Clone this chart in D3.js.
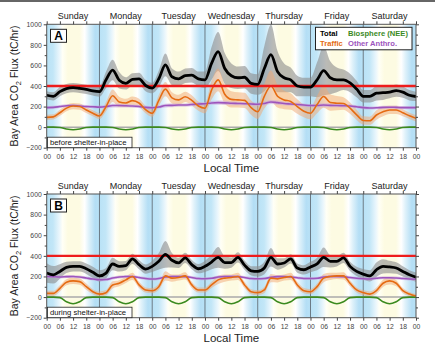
<!DOCTYPE html>
<html lang="en">
<head>
<meta charset="utf-8">
<title>Bay Area CO2 flux</title>
<style>
  body { margin: 0; background: #fff; }
  svg text { font-family: "Liberation Sans", Arial, sans-serif; }
</style>
</head>
<body>
<div id="chart"></div>
<script src="https://d3js.org/d3.v7.min.js"></script>
<script>
// ---- data (3-hourly, Sunday 00 -> Saturday 24) ----
var days = ["Sunday", "Monday", "Tuesday", "Wednesday", "Thursday", "Friday", "Saturday"];
var hourLabels = ["00", "06", "12", "18"];
var yTicks = [-200, 0, 200, 400, 600, 800, 1000];
var refLevel = 400;

var totalA = [310, 300, 345, 375, 385, 378, 368, 352,
  345, 460, 555, 455, 425, 465, 470, 405,
  380, 470, 605, 490, 470, 500, 505, 470,
  460, 620, 735, 570, 500, 480, 485, 425,
  415, 570, 705, 540, 480, 460, 400, 390,
  390, 460, 550, 480, 460, 460, 430, 370,
  300, 300, 330, 335, 340, 355, 340, 310, 298];
var totalBandA = [40, 40, 45, 45, 45, 45, 45, 45,
  50, 80, 100, 80, 60, 60, 60, 55,
  50, 80, 110, 80, 70, 70, 70, 70,
  80, 160, 190, 150, 120, 110, 110, 100,
  100, 220, 290, 200, 140, 120, 100, 90,
  90, 170, 240, 160, 120, 100, 90, 80,
  60, 60, 70, 70, 60, 60, 55, 50, 45];
var trafficA = [95, 100, 140, 185, 205, 200, 167, 135,
  108, 200, 305, 245, 235, 258, 235, 170,
  135, 260, 370, 285, 265, 295, 260, 205,
  184, 360, 460, 320, 270, 265, 260, 190,
  150, 300, 400, 300, 265, 250, 200, 155,
  135, 220, 298, 240, 233, 230, 184, 120,
  65, 62, 118, 150, 167, 167, 140, 110, 86];
var trafficBandA = [25, 25, 30, 30, 30, 30, 30, 30,
  30, 45, 60, 50, 40, 40, 40, 35,
  35, 55, 70, 55, 50, 50, 50, 45,
  50, 90, 110, 90, 80, 75, 75, 70,
  70, 120, 150, 110, 90, 80, 70, 60,
  60, 85, 110, 80, 70, 60, 55, 50,
  40, 40, 45, 45, 40, 40, 35, 30, 30];
var otherA = [190, 192, 200, 208, 210, 205, 200, 198,
  195, 200, 210, 210, 208, 205, 200, 192,
  188, 195, 210, 212, 215, 215, 220, 225,
  228, 235, 238, 236, 232, 230, 228, 225,
  222, 230, 245, 238, 230, 225, 220, 215,
  210, 210, 215, 212, 210, 208, 205, 198,
  190, 186, 188, 192, 194, 192, 190, 190, 190];
var otherBandA = [15, 15, 15, 15, 15, 15, 15, 15,
  15, 15, 18, 18, 16, 16, 15, 15,
  15, 15, 18, 18, 16, 16, 16, 16,
  16, 18, 20, 20, 18, 18, 16, 16,
  16, 18, 20, 20, 18, 18, 16, 16,
  15, 16, 18, 18, 16, 16, 15, 15,
  15, 15, 15, 15, 15, 15, 15, 15, 15];
var bioA = [0, 0, -3, -18, -25, -18, -3, 0,
  0, 0, -3, -18, -25, -18, -3, 0,
  0, 0, -3, -18, -25, -18, -3, 0,
  0, 0, -3, -18, -25, -18, -3, 0,
  0, 0, -3, -18, -25, -18, -3, 0,
  0, 0, -3, -18, -25, -18, -3, 0,
  0, 0, -3, -18, -25, -18, -3, 0, 0];

var totalB = [233, 216, 249, 288, 298, 298, 275, 240,
  206, 233, 321, 298, 305, 370, 315, 272,
  298, 347, 415, 357, 331, 380, 315, 275,
  298, 340, 385, 335, 335, 385, 310, 255,
  249, 282, 386, 321, 331, 370, 282, 265,
  292, 321, 386, 347, 347, 380, 298, 249,
  223, 206, 265, 298, 292, 282, 249, 216, 193];
var totalBandB = [95, 85, 70, 55, 50, 50, 50, 55,
  55, 50, 60, 50, 45, 50, 45, 45,
  55, 80, 130, 70, 50, 50, 45, 45,
  55, 70, 100, 60, 50, 50, 45, 45,
  50, 60, 90, 55, 45, 45, 45, 45,
  50, 60, 95, 60, 50, 50, 45, 45,
  50, 55, 70, 70, 60, 55, 50, 45, 45];
var trafficB = [36, 36, 85, 144, 157, 150, 101, 52,
  29, 43, 118, 134, 167, 200, 118, 69,
  62, 101, 206, 184, 190, 206, 118, 69,
  69, 118, 167, 184, 190, 200, 118, 52,
  43, 69, 184, 177, 190, 200, 118, 62,
  52, 101, 184, 200, 206, 206, 134, 69,
  43, 29, 62, 134, 157, 134, 62, 29, 10];
var trafficBandB = [25, 25, 30, 30, 30, 30, 30, 25,
  25, 25, 35, 30, 30, 35, 30, 25,
  25, 30, 45, 35, 30, 35, 30, 25,
  25, 30, 40, 35, 30, 35, 30, 25,
  25, 30, 40, 35, 30, 35, 30, 25,
  25, 30, 40, 35, 30, 35, 30, 25,
  25, 25, 30, 35, 35, 30, 25, 20, 20];
var otherB = [200, 198, 195, 198, 200, 195, 185, 175,
  168, 170, 185, 195, 200, 198, 190, 180,
  175, 180, 195, 200, 200, 198, 190, 180,
  178, 182, 195, 200, 200, 198, 190, 180,
  178, 180, 192, 198, 198, 195, 188, 180,
  180, 182, 195, 200, 200, 198, 190, 182,
  178, 176, 182, 188, 188, 185, 180, 176, 173];
var otherBandB = [14, 14, 14, 14, 14, 14, 14, 14,
  14, 14, 14, 14, 14, 14, 14, 14,
  14, 14, 14, 14, 14, 14, 14, 14,
  14, 14, 14, 14, 14, 14, 14, 14,
  14, 14, 14, 14, 14, 14, 14, 14,
  14, 14, 14, 14, 14, 14, 14, 14,
  14, 14, 14, 14, 14, 14, 14, 14, 14];
var bioB = [0, 0, -5, -45, -65, -45, -5, 0,
  0, 0, -5, -45, -65, -45, -5, 0,
  0, 0, -5, -45, -65, -45, -5, 0,
  0, 0, -5, -45, -65, -45, -5, 0,
  0, 0, -5, -45, -65, -45, -5, 0,
  0, 0, -5, -45, -65, -45, -5, 0,
  0, 0, -5, -45, -65, -45, -5, 0, 0];

var hours = totalA.map(function (d, i) { return i * 3; });

// ---- layout ----
var W = 435, H = 345;
var left = 46.7, right = 416;

var svg = d3.select("#chart").append("svg")
  .attr("width", W).attr("height", H);

svg.append("line").attr("x1", 0).attr("x2", W).attr("y1", 1).attr("y2", 1)
  .attr("stroke", "#666").attr("stroke-width", 2);

var x = d3.scaleLinear().domain([0, 168]).range([left, right]);

// background day gradient
var defs = svg.append("defs");
var grad = defs.append("linearGradient").attr("id", "daygrad")
  .attr("x1", "0%").attr("x2", "100%").attr("y1", "0%").attr("y2", "0%");
[[0, "#b9e2f6"], [0.12, "#c2e6f7"], [0.24, "#eaf6fc"], [0.3, "#fffff6"],
 [0.4, "#fdfbe2"], [0.62, "#fdfbe2"], [0.72, "#ffffff"], [0.8, "#def1fa"],
 [0.92, "#b4def5"], [1, "#b9e2f6"]].forEach(function (s) {
  grad.append("stop").attr("offset", s[0]).attr("stop-color", s[1]);
});

function drawPanel(top, bottom, id, label, note, d, legend) {
  var y = d3.scaleLinear().domain([-200, 1000]).range([bottom, top]);
  var g = svg.append("g");

  defs.append("clipPath").attr("id", "clip" + id).append("rect")
    .attr("x", left).attr("y", top).attr("width", right - left).attr("height", bottom - top);
  var plot = g.append("g").attr("clip-path", "url(#clip" + id + ")");

  plot.selectAll("rect.day").data(days).enter().append("rect")
    .attr("class", "day")
    .attr("x", function (dd, i) { return x(i * 24); })
    .attr("width", x(24) - x(0))
    .attr("y", top).attr("height", bottom - top)
    .attr("fill", "url(#daygrad)");

  plot.selectAll("line.dsep").data(d3.range(1, 7)).enter().append("line")
    .attr("x1", function (i) { return x(i * 24); })
    .attr("x2", function (i) { return x(i * 24); })
    .attr("y1", top).attr("y2", bottom)
    .attr("stroke", "#6a7a85").attr("stroke-width", 1);

  plot.append("line").attr("x1", left).attr("x2", right)
    .attr("y1", y(0)).attr("y2", y(0))
    .attr("stroke", "#aaa").attr("stroke-width", 1.5);

  function band(vals, spread) {
    return d3.area().curve(d3.curveMonotoneX)
      .x(function (v, i) { return x(hours[i]); })
      .y0(function (v, i) { return y(vals[i] - spread[i]); })
      .y1(function (v, i) { return y(vals[i] + spread[i]); })(vals);
  }
  var line = d3.line().curve(d3.curveMonotoneX)
    .x(function (v, i) { return x(hours[i]); })
    .y(function (v) { return y(v); });

  plot.append("path").attr("d", band(d.total, d.totalBand))
    .attr("fill", "#8c8c8c").attr("opacity", 0.6);
  plot.append("path").attr("d", band(d.traffic, d.trafficBand))
    .attr("fill", "#f2a772").attr("opacity", 0.5);
  plot.append("path").attr("d", band(d.other, d.otherBand))
    .attr("fill", "#c9a2dc").attr("opacity", 0.55);

  plot.append("path").attr("d", line(d.bio))
    .attr("fill", "none").attr("stroke", "#3b8a1f").attr("stroke-width", 1.6);
  plot.append("path").attr("d", line(d.other))
    .attr("fill", "none").attr("stroke", "#9d55bd").attr("stroke-width", 1.6);
  plot.append("path").attr("d", line(d.traffic))
    .attr("fill", "none").attr("stroke", "#e56b12").attr("stroke-width", 1.6);
  plot.append("line").attr("x1", left).attr("x2", right)
    .attr("y1", y(refLevel)).attr("y2", y(refLevel))
    .attr("stroke", "#ee1c1c").attr("stroke-width", 2.4);
  plot.append("path").attr("d", line(d.total))
    .attr("fill", "none").attr("stroke", "#000").attr("stroke-width", 2.8);

  // frame
  g.append("rect").attr("x", left).attr("y", top)
    .attr("width", right - left).attr("height", bottom - top)
    .attr("fill", "none").attr("stroke", "#555").attr("stroke-width", 1);

  // axes
  var hourTicks = d3.range(0, 169, 6);
  g.append("g").attr("transform", "translate(0," + bottom + ")")
    .call(d3.axisBottom(x).tickValues(hourTicks).tickSize(3).tickPadding(3)
      .tickFormat(function (h) { return hourLabels[(h / 6) % 4]; }));
  g.append("g").attr("transform", "translate(0," + top + ")")
    .call(d3.axisTop(x).tickValues(hourTicks).tickSize(3).tickFormat(""));
  g.append("g").attr("transform", "translate(" + left + ",0)")
    .call(d3.axisLeft(y).tickValues(yTicks).tickSize(3).tickPadding(2).tickFormat(d3.format("d")));
  g.append("g").attr("transform", "translate(" + right + ",0)")
    .call(d3.axisRight(y).tickValues(yTicks).tickSize(3).tickFormat(""));
  g.append("g").attr("transform", "translate(" + left + ",0)")
    .call(d3.axisLeft(y).tickValues(d3.range(-100, 1000, 200)).tickSize(2).tickFormat(""));
  g.append("g").attr("transform", "translate(" + right + ",0)")
    .call(d3.axisRight(y).tickValues(d3.range(-100, 1000, 200)).tickSize(2).tickFormat(""));
  g.selectAll(".domain").remove();
  g.selectAll(".tick line").attr("stroke", "#444");
  g.selectAll(".tick text").attr("fill", "#444").style("font-size", "6.8px")
    .style("font-family", "Liberation Sans, Arial, sans-serif");

  // day names
  g.selectAll("text.dname").data(days).enter().append("text")
    .attr("class", "dname")
    .attr("x", function (dd, i) { return x(i * 24 + 12); })
    .attr("y", top - 5)
    .attr("text-anchor", "middle")
    .attr("fill", "#222").style("font-size", "9px")
    .text(function (dd) { return dd; });

  g.append("text").attr("x", (left + right) / 2).attr("y", bottom + 24)
    .attr("text-anchor", "middle").attr("fill", "#222").style("font-size", "11.5px")
    .text("Local Time");

  var yl2 = g.append("text")
    .attr("transform", "translate(18," + (top + bottom) / 2 + ") rotate(-90)")
    .attr("text-anchor", "middle").attr("fill", "#222").style("font-size", "10.5px");
  yl2.append("tspan").text("Bay Area CO");
  yl2.append("tspan").attr("dy", 3).style("font-size", "7.5px").text("2");
  yl2.append("tspan").attr("dy", -3).text(" Flux (tC/hr)");

  // panel letter
  g.append("rect").attr("x", 50.5).attr("y", top + 5).attr("width", 16).attr("height", 13)
    .attr("fill", "#fff").attr("stroke", "#222").attr("stroke-width", 1);
  g.append("text").attr("x", 58.5).attr("y", top + 15.8).attr("text-anchor", "middle")
    .attr("fill", "#000").style("font-size", "12px").style("font-weight", "bold").text(label);

  // note box
  g.append("rect").attr("x", 47.5).attr("y", bottom - 10.5).attr("width", 84.5).attr("height", 10.5)
    .attr("fill", "#fff").attr("stroke", "#222").attr("stroke-width", 0.8);
  g.append("text").attr("x", 50).attr("y", bottom - 2.5)
    .attr("fill", "#111").style("font-size", "7.7px").text(note);

  if (legend) {
    g.append("rect").attr("x", 315.5).attr("y", top + 3).attr("width", 96.5).attr("height", 22.5)
      .attr("fill", "#fff").attr("stroke", "#222").attr("stroke-width", 1);
    var items = [["Total", "#000", 320, top + 12], ["Biosphere (NEE)", "#3b8a1f", 348, top + 12],
      ["Traffic", "#e56b12", 320, top + 22], ["Other Anthro.", "#9d55bd", 348, top + 22]];
    g.selectAll("text.leg").data(items).enter().append("text")
      .attr("class", "leg")
      .attr("x", function (it) { return it[2]; })
      .attr("y", function (it) { return it[3]; })
      .attr("fill", function (it) { return it[1]; })
      .style("font-size", "7.6px").style("font-weight", "bold")
      .text(function (it) { return it[0]; });
  }
}

drawPanel(24.3, 147.7, "A", "A", "before shelter-in-place", {
  total: totalA, totalBand: totalBandA, traffic: trafficA, trafficBand: trafficBandA,
  other: otherA, otherBand: otherBandA, bio: bioA
}, true);
drawPanel(194, 317.7, "B", "B", "during shelter-in-place", {
  total: totalB, totalBand: totalBandB, traffic: trafficB, trafficBand: trafficBandB,
  other: otherB, otherBand: otherBandB, bio: bioB
}, false);
</script>
</body>
</html>
